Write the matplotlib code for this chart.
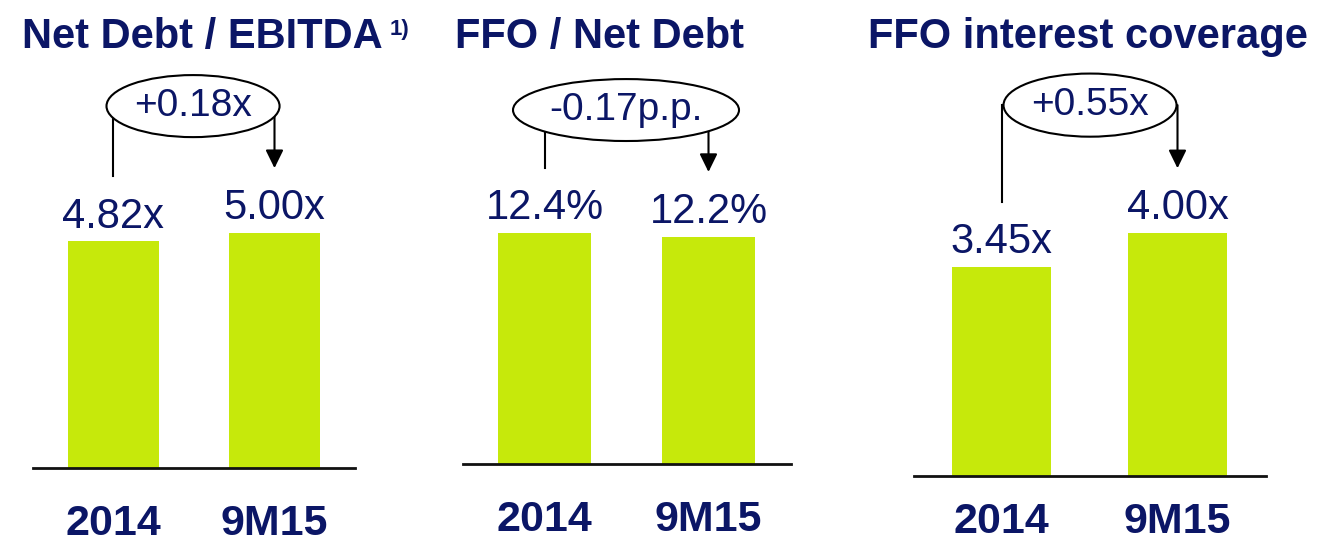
import matplotlib
matplotlib.use('Agg')
import matplotlib.pyplot as plt
from matplotlib.patches import Ellipse

plt.rcParams['font.family'] = ['Liberation Sans', 'DejaVu Sans']

categories = ['2014', '9M15']
titles = ['Net Debt / EBITDA', 'FFO / Net Debt', 'FFO interest coverage']
net_debt_ebitda = [4.82, 5.00]
ffo_net_debt = [12.4, 12.2]
ffo_coverage = [3.45, 4.00]
value_fmt = ['{:.2f}x', '{:.1f}%', '{:.2f}x']
changes = ['+0.18x', '-0.17p.p.', '+0.55x']

NAVY = '#0b1666'
LIME = '#c6e90b'
W, H = 1323, 543

fig = plt.figure(figsize=(W / 100, H / 100), dpi=100)

# panel boxes: left px, right px, baseline px (from top), px per data unit
layout = [(33, 355, 468, 47.0), (462.5, 790.5, 464, 18.6), (913.5, 1265.5, 476, 60.7)]
title_x = [22, 455, 868]
cat_offset = [-48, -48, -41]  # points below the baseline
# change bubble: centre, size and connector ends, in data units
bubbles = [
    dict(xy=(0.494, 7.70), w=1.075, h=1.32, left=6.21, right=6.38),
    dict(xy=(0.497, 19.03), w=1.378, h=3.33, left=15.9, right=15.7),
    dict(xy=(0.503, 6.11), w=0.983, h=1.04, left=4.51, right=5.07),
]

series = [net_debt_ebitda, ffo_net_debt, ffo_coverage]

for i, vals in enumerate(series):
    l, r, base, ppu = layout[i]
    b = bubbles[i]
    ax = fig.add_axes([l / W, (H - base) / H, (r - l) / W, base / H])
    ax.patch.set_alpha(0)
    x = range(len(categories))
    ax.bar(x, vals, width=0.565, color=LIME)
    ax.set_xlim(-0.5, 1.5)
    ax.set_ylim(0, base / ppu)
    ax.set_xticks([])
    ax.set_yticks([])
    for s in ['top', 'left', 'right']:
        ax.spines[s].set_visible(False)
    ax.spines['bottom'].set_linewidth(2)
    ax.spines['bottom'].set_color('#111111')

    for j, v in enumerate(vals):
        ax.annotate(value_fmt[i].format(v), (j, v), xytext=(0, 10), textcoords='offset points',
                    ha='center', va='baseline', fontsize=30, color=NAVY)
        ax.annotate(categories[j], (j, 0), xytext=(0, cat_offset[i]), textcoords='offset points',
                    ha='center', va='baseline', fontsize=31, fontweight='bold', color=NAVY,
                    annotation_clip=False)

    # change bubble with connector and arrow
    cx, cy = b['xy']
    ax.add_patch(Ellipse((cx, cy), b['w'], b['h'], facecolor='white', edgecolor='black',
                         lw=1.5, zorder=4))
    ax.text(cx, cy, changes[i], ha='center', va='center', fontsize=28, color=NAVY, zorder=5)
    ax.plot([0, 0], [cy, b['left']], color='black', lw=1.5, zorder=3)
    ax.annotate('', xy=(1, b['right']), xytext=(1, cy),
                arrowprops=dict(arrowstyle='-|>,head_length=0.55,head_width=0.27',
                                mutation_scale=20, color='black', lw=1.5,
                                shrinkA=0, shrinkB=0), zorder=3)

    fig.text(title_x[i] / W, 1 - 48 / H, titles[i], fontsize=30, fontweight='bold',
             color=NAVY, va='baseline')

fig.text(390 / W, 1 - 35 / H, '1)', fontsize=16, fontweight='bold', color=NAVY, va='baseline')

fig.savefig('out.png', dpi=100)
